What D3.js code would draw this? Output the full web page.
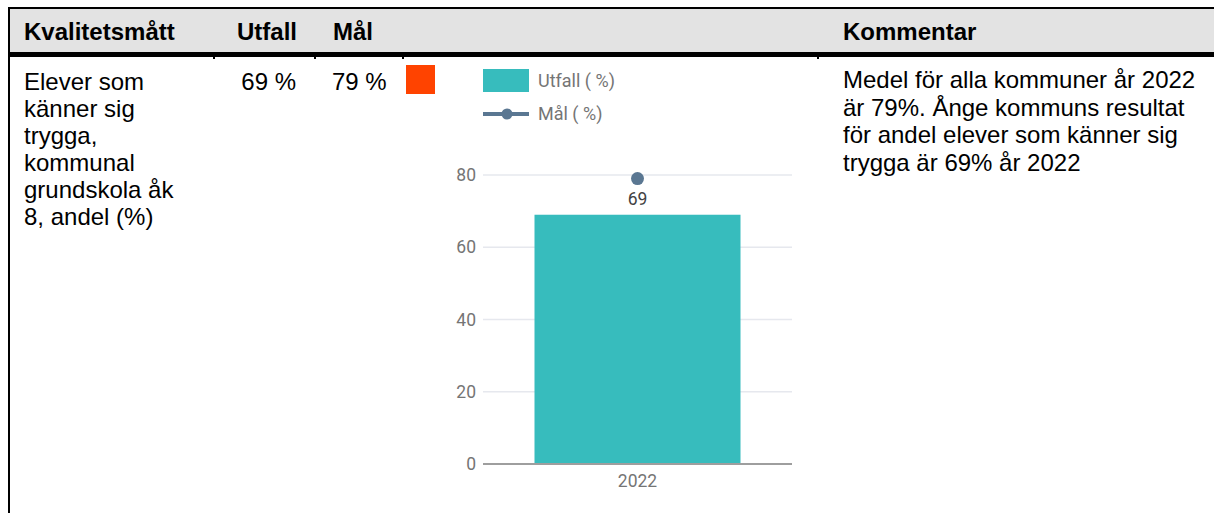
<!DOCTYPE html>
<html lang="sv">
<head>
<meta charset="UTF-8">
<title>Elever som känner sig trygga</title>
<script src="https://d3js.org/d3.v7.min.js"></script>
<style>
  body { margin: 0; background: #fff; }
  .cell { font-family: "Liberation Sans", Arial, sans-serif; font-size: 24px; fill: #000; }
  .head { font-weight: bold; }
  .chart text { font-family: Roboto, sans-serif; }
  .tick text { font-size: 17.5px; fill: #757575; }
  .grid line { stroke: #e6e8ee; stroke-width: 1.5; }
</style>
</head>
<body>
<svg width="1214" height="513"></svg>
<script>
// table content
const headers = [
  {text: "Kvalitetsmått", x: 24, anchor: "start"},
  {text: "Utfall", x: 297, anchor: "end"},
  {text: "Mål", x: 333, anchor: "start"},
  {text: "Kommentar", x: 843, anchor: "start"}
];
const measureLines = ["Elever som", "känner sig", "trygga,", "kommunal", "grundskola åk", "8, andel (%)"];
const commentLines = ["Medel för alla kommuner år 2022", "är 79%. Ånge kommuns resultat", "för andel elever som känner sig", "trygga är 69% år 2022"];
const outcomeText = "69 %";
const targetText = "79 %";
const statusColor = "#ff4300";

// chart data
const years = ["2022"];
const utfall = [69];
const mal = [79];
const yTicks = [0, 20, 40, 60, 80];
const legendLabels = ["Utfall ( %)", "Mål ( %)"];

const teal = "#37bcbd", slate = "#5a7792";

const svg = d3.select("svg");

// header row
svg.append("rect").attr("x", 10).attr("y", 9).attr("width", 1204).attr("height", 43).attr("fill", "#e3e3e3");
svg.append("rect").attr("x", 8).attr("y", 7).attr("width", 1206).attr("height", 2).attr("fill", "#000");
svg.append("rect").attr("x", 8).attr("y", 52).attr("width", 1206).attr("height", 5).attr("fill", "#000");
svg.append("rect").attr("x", 8).attr("y", 7).attr("width", 2).attr("height", 506).attr("fill", "#000");
[213, 314, 402, 817].forEach(x =>
  svg.append("rect").attr("x", x).attr("y", 57).attr("width", 2).attr("height", 2).attr("fill", "#000"));

svg.selectAll("text.head").data(headers).join("text")
  .attr("class", "cell head")
  .attr("x", d => d.x).attr("y", 40)
  .attr("text-anchor", d => d.anchor)
  .text(d => d.text);

svg.append("g").selectAll("text").data(measureLines).join("text")
  .attr("class", "cell")
  .attr("x", 24).attr("y", (d, i) => 90 + i * 27)
  .text(d => d);

svg.append("text").attr("class", "cell").attr("x", 296).attr("y", 90).attr("text-anchor", "end").text(outcomeText);
svg.append("text").attr("class", "cell").attr("x", 332).attr("y", 90).text(targetText);
svg.append("rect").attr("x", 406).attr("y", 65).attr("width", 29).attr("height", 29).attr("fill", statusColor);

svg.append("g").selectAll("text").data(commentLines).join("text")
  .attr("class", "cell")
  .attr("x", 843).attr("y", (d, i) => 88 + i * 27.5)
  .text(d => d);

// chart
const chart = svg.append("g").attr("class", "chart");
const x = d3.scaleBand().domain(years).range([483, 792]).padding(0.2);
const y = d3.scaleLinear().domain([0, 80]).range([464, 175]);

chart.append("g").attr("class", "grid")
  .selectAll("line").data(yTicks.filter(t => t > 0)).join("line")
  .attr("x1", 483).attr("x2", 792)
  .attr("y1", d => y(d)).attr("y2", d => y(d));

const yAxis = chart.append("g").attr("transform", "translate(483,0)")
  .call(d3.axisLeft(y).tickValues(yTicks).tickSize(0).tickPadding(7));
yAxis.select(".domain").remove();

chart.selectAll("rect.bar").data(utfall).join("rect")
  .attr("class", "bar")
  .attr("x", (d, i) => x(years[i])).attr("width", x.bandwidth())
  .attr("y", d => y(d)).attr("height", d => y(0) - y(d))
  .attr("fill", teal);

chart.append("line").attr("x1", 483).attr("x2", 792).attr("y1", y(0)).attr("y2", y(0))
  .attr("stroke", "#9e9e9e").attr("stroke-width", 2);

const xAxis = chart.append("g").attr("transform", `translate(0,${y(0)})`)
  .call(d3.axisBottom(x).tickSize(0).tickPadding(11));
xAxis.select(".domain").remove();

chart.selectAll("circle.mal").data(mal).join("circle")
  .attr("class", "mal")
  .attr("cx", (d, i) => x(years[i]) + x.bandwidth() / 2)
  .attr("cy", d => y(d)).attr("r", 6.5).attr("fill", slate);

chart.selectAll("text.val").data(utfall).join("text")
  .attr("class", "val")
  .attr("x", (d, i) => x(years[i]) + x.bandwidth() / 2)
  .attr("y", (d, i) => y(mal[i]) + 20)
  .attr("dy", "0.35em")
  .attr("text-anchor", "middle")
  .attr("font-size", 17.5).attr("fill", "#424242")
  .text(d => d);

// legend
const lg = chart.append("g");
lg.append("rect").attr("x", 483).attr("y", 69).attr("width", 46).attr("height", 23).attr("fill", teal);
lg.append("line").attr("x1", 483).attr("x2", 529).attr("y1", 114).attr("y2", 114)
  .attr("stroke", slate).attr("stroke-width", 4);
lg.append("circle").attr("cx", 507).attr("cy", 114).attr("r", 5.5).attr("fill", slate);
lg.selectAll("text").data(legendLabels).join("text")
  .attr("x", 538).attr("y", (d, i) => 81 + i * 33)
  .attr("dy", "0.35em")
  .attr("font-size", 18).attr("fill", "#757575")
  .text(d => d);
</script>
</body>
</html>
